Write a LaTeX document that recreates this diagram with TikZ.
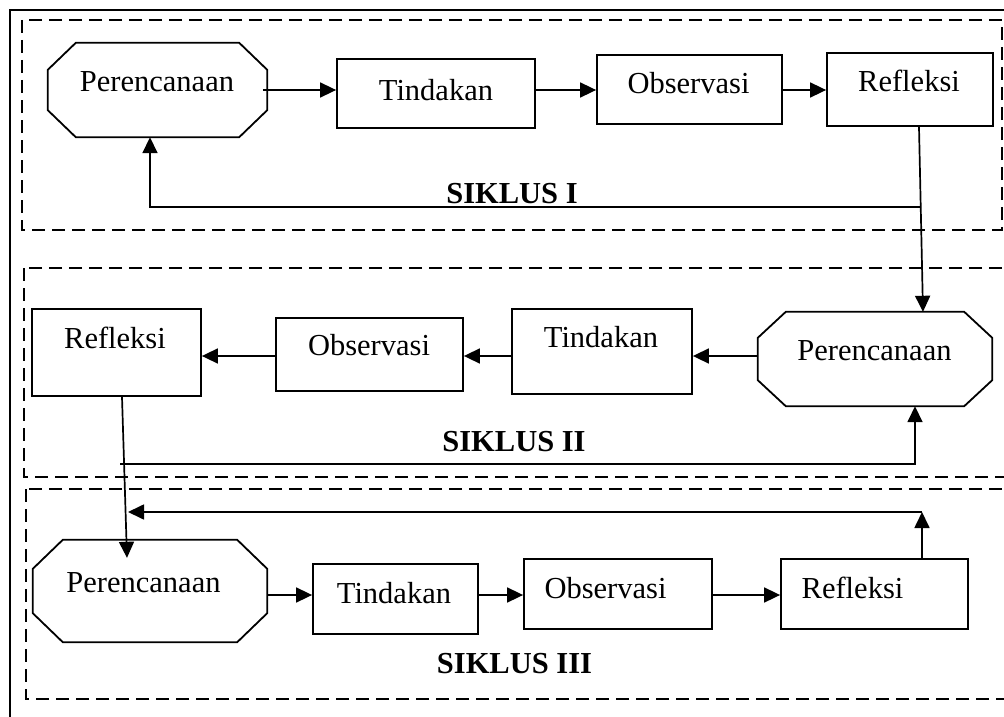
\documentclass[tikz,border=0pt]{standalone}
\usepackage{fontspec}
\setmainfont{Liberation Serif}
\usetikzlibrary{arrows.meta,calc}
\tikzset{
  stepbox/.style={draw, line width=1.8pt, inner sep=0pt, rectangle},
  octbase/.style={inner sep=0pt, rectangle},
  lbl/.style={anchor=base, inner sep=0pt, font=\fontsize{30.5}{36}\selectfont},
  cyc/.style={anchor=base, inner sep=0pt, font=\fontsize{30.5}{36}\selectfont\bfseries},
  arr/.style={line width=1.7pt, -{Triangle[length=16pt,width=15pt]}},
  zone/.style={line width=1.6pt, dash pattern=on 13pt off 7pt},
  frame/.style={line width=1.8pt}
}
\newcommand\octpath[3]{%
  \draw[line width=1.8pt] ([xshift=#2]#1.north west) -- ([xshift=-#2]#1.north east)
   -- ([yshift=-#3]#1.north east) -- ([yshift=#3]#1.south east)
   -- ([xshift=-#2]#1.south east) -- ([xshift=#2]#1.south west)
   -- ([yshift=#3]#1.south west) -- ([yshift=-#3]#1.north west) -- cycle;}
\begin{document}
\begin{tikzpicture}[x=1pt,y=-1pt]
\useasboundingbox (0,0) rectangle (1004,717);
% outer frame
\draw[frame] (1012,10) -- (10,10) -- (10,725);
% cycle zones
\draw[zone] (22,20) rectangle (1002,230);
\draw[zone] (24,268) rectangle (1014,477);
\draw[zone] (26,489) rectangle (1014,699);

% ---- Row 1
\node[octbase, minimum width=219pt, minimum height=94pt] (p1) at (157.5,90) {};
\octpath{p1}{28pt}{27pt}
\node[lbl] (p1t) at (157,92) {Perencanaan};
\node[stepbox, minimum width=198pt, minimum height=69pt] (t1) at (436,93.5) {};
\node[lbl] (t1t) at (436,100) {Tindakan};
\node[stepbox, minimum width=185pt, minimum height=69pt] (o1) at (689.5,89.5) {};
\node[lbl] (o1t) at (688.5,93) {Observasi};
\node[stepbox, minimum width=166pt, minimum height=73pt] (r1) at (910,89.5) {};
\node[lbl] (r1t) at (909,92) {Refleksi};
\node[cyc] (s1) at (512,203) {SIKLUS I};

% ---- Row 2
\node[stepbox, minimum width=169pt, minimum height=87pt] (r2) at (116.5,352.5) {};
\node[lbl] (r2t) at (115,348) {Refleksi};
\node[stepbox, minimum width=187pt, minimum height=73pt] (o2) at (369.5,354.5) {};
\node[lbl] (o2t) at (369,355) {Observasi};
\node[stepbox, minimum width=180pt, minimum height=85pt] (t2) at (602,351.5) {};
\node[lbl] (t2t) at (601,347) {Tindakan};
\node[octbase, minimum width=234pt, minimum height=94pt] (p2) at (875,359) {};
\octpath{p2}{28pt}{26pt}
\node[lbl] (p2t) at (874.5,360) {Perencanaan};
\node[cyc] (s2) at (514,451) {SIKLUS II};

% ---- Row 3
\node[octbase, minimum width=234pt, minimum height=102pt] (p3) at (150,591) {};
\octpath{p3}{30pt}{29pt}
\node[lbl] (p3t) at (143.5,592) {Perencanaan};
\node[stepbox, minimum width=165pt, minimum height=70pt] (t3) at (395.5,599) {};
\node[lbl] (t3t) at (394,603) {Tindakan};
\node[stepbox, minimum width=188pt, minimum height=70pt] (o3) at (618,594) {};
\node[lbl] (o3t) at (605.5,598) {Observasi};
\node[stepbox, minimum width=187pt, minimum height=70pt] (r3) at (874.5,594) {};
\node[lbl] (r3t) at (852.5,598) {Refleksi};
\node[cyc] (s3) at (514.5,673) {SIKLUS III};

% ---- connectors, row 1
\coordinate (row1) at (0,90);
\draw[arr] ([xshift=-4pt]p1.east) -- (t1.west |- row1);
\draw[arr] (t1.east |- row1) -- (o1.west |- row1);
\draw[arr] (o1.east |- row1) -- (r1.west |- row1);
% feedback cycle I and link to cycle II
\draw[arr] ([xshift=9pt]r1.south) -- ([xshift=48pt]p2.north);
\coordinate (k1) at (921,207);
\draw[arr] (k1) -| ([xshift=-7.5pt]p1.south);

% ---- connectors, row 2
\coordinate (row2) at (0,356);
\draw[arr] (p2.west |- row2) -- (t2.east |- row2);
\draw[arr] (t2.west |- row2) -- (o2.east |- row2);
\draw[arr] (o2.west |- row2) -- (r2.east |- row2);
% link to cycle III and feedback cycle II
\draw[arr] ([xshift=5.5pt]r2.south) -- ([xshift=-23pt,yshift=-18pt]p3.north);
\coordinate (k2) at (120,464);
\draw[arr] (k2) -| ([xshift=40pt]p2.south);

% ---- connectors, row 3
\coordinate (row3) at (0,595);
\draw[arr] (p3.east |- row3) -- (t3.west |- row3);
\draw[arr] (t3.east |- row3) -- (o3.west |- row3);
\draw[arr] (o3.east |- row3) -- (r3.west |- row3);
\coordinate (k3) at (922,512);
\coordinate (k3b) at (128,512);
\draw[arr] ([xshift=47.5pt]r3.north) -- (k3);
\draw[arr] (k3) -- (k3b);
\end{tikzpicture}
\end{document}
